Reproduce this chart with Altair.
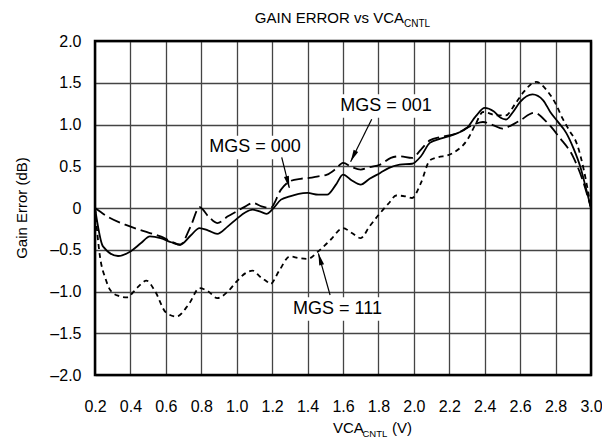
import altair as alt
import pandas as pd

FONT = "Liberation Sans"
W, H = 496, 334

x_ticks = [0.2, 0.4, 0.6, 0.8, 1.0, 1.2, 1.4, 1.6, 1.8, 2.0, 2.2, 2.4, 2.6, 2.8, 3.0]
y_ticks = [-2.0, -1.5, -1.0, -0.5, 0.0, 0.5, 1.0, 1.5, 2.0]

# Solid curve
solid_v = [0.20, 0.245, 0.33, 0.40, 0.46, 0.51, 0.57, 0.63, 0.68, 0.74, 0.79, 0.84, 0.89, 0.95,
           1.00, 1.05, 1.09, 1.14, 1.17, 1.20, 1.25, 1.30, 1.35, 1.40, 1.46, 1.51, 1.56, 1.60,
           1.65, 1.70, 1.75, 1.81, 1.86, 1.92, 1.99, 2.04, 2.09, 2.15, 2.20, 2.25, 2.30, 2.35,
           2.40, 2.45, 2.49, 2.52, 2.56, 2.60, 2.67, 2.73, 2.77, 2.81, 2.86, 2.90, 2.94, 2.97, 3.00]
solid_g = [0.00, -0.46, -0.575, -0.52, -0.42, -0.34, -0.36, -0.41, -0.44, -0.33, -0.24, -0.27, -0.31, -0.22,
           -0.13, -0.05, -0.02, -0.05, -0.07, -0.02, 0.10, 0.14, 0.17, 0.18, 0.16, 0.16, 0.28, 0.40,
           0.33, 0.28, 0.35, 0.42, 0.48, 0.52, 0.53, 0.62, 0.78, 0.83, 0.86, 0.90, 0.96, 1.10,
           1.20, 1.16, 1.08, 1.06, 1.15, 1.27, 1.36, 1.29, 1.15, 1.04, 0.90, 0.72, 0.49, 0.25, 0.00]

# Long-dash curve
long_v = [0.20, 0.285, 0.37, 0.45, 0.51, 0.57, 0.63, 0.68, 0.74, 0.79, 0.84, 0.89, 0.95, 1.00,
          1.05, 1.09, 1.14, 1.19, 1.25, 1.30, 1.36, 1.41, 1.46, 1.51, 1.56, 1.60, 1.65, 1.70,
          1.75, 1.81, 1.87, 1.92, 1.99, 2.04, 2.09, 2.15, 2.20, 2.25, 2.30, 2.35, 2.39, 2.45,
          2.50, 2.55, 2.60, 2.68, 2.75, 2.82, 2.90, 2.95, 3.00]
long_g = [0.00, -0.12, -0.20, -0.26, -0.30, -0.34, -0.40, -0.44, -0.22, 0.01, -0.10, -0.18, -0.10, -0.04,
          0.02, 0.06, 0.02, 0.00, 0.22, 0.32, 0.35, 0.36, 0.38, 0.40, 0.47, 0.54, 0.49, 0.46,
          0.49, 0.52, 0.60, 0.62, 0.60, 0.70, 0.81, 0.85, 0.87, 0.90, 0.96, 1.01, 1.03, 0.99,
          0.95, 0.99, 1.05, 1.14, 1.03, 0.85, 0.61, 0.35, 0.00]

# Short-dash curve
short_v = [0.20, 0.228, 0.26, 0.285, 0.33, 0.38, 0.44, 0.49, 0.54, 0.60, 0.66, 0.73, 0.79, 0.84,
           0.89, 0.95, 1.00, 1.05, 1.09, 1.13, 1.17, 1.19, 1.24, 1.30, 1.35, 1.40, 1.46, 1.53,
           1.60, 1.65, 1.70, 1.75, 1.81, 1.86, 1.90, 1.95, 1.99, 2.04, 2.09, 2.14, 2.19, 2.25,
           2.30, 2.35, 2.39, 2.47, 2.52, 2.57, 2.62, 2.69, 2.75, 2.80, 2.84, 2.88, 2.92, 2.96, 3.00]
short_g = [0.00, -0.58, -0.85, -0.98, -1.05, -1.07, -0.95, -0.87, -1.00, -1.25, -1.30, -1.15, -0.96, -1.00,
           -1.08, -1.00, -0.88, -0.78, -0.75, -0.82, -0.88, -0.91, -0.75, -0.58, -0.60, -0.61, -0.52, -0.38,
           -0.24, -0.30, -0.36, -0.22, -0.06, 0.06, 0.15, 0.14, 0.12, 0.30, 0.57, 0.61, 0.63, 0.70,
           0.81, 1.01, 1.15, 1.11, 1.11, 1.24, 1.39, 1.51, 1.41, 1.25, 1.07, 0.92, 0.77, 0.45, 0.00]

# Annotations
ann_text = ["MGS = 000", "MGS = 001", "MGS = 111"]
ann_v = [1.103, 1.843, 1.569]
ann_g = [0.725, 1.222, -1.21]
box_half_v = [0.28, 0.28, 0.28]
box_half_g = [0.14, 0.14, 0.14]
tail_v = [1.254, 1.762, 1.527]
tail_g = [0.607, 1.062, -1.042]
tip_v = [1.297, 1.643, 1.461]
tip_g = [0.24, 0.554, -0.543]
tip_angle = [166, 206, 344]

xs = alt.Scale(domain=[0.2, 3.0], nice=False, zero=False)
ys = alt.Scale(domain=[-2.0, 2.0], nice=False, zero=False)
x_axis = alt.Axis(values=x_ticks, labelExpr="format(datum.value, '.1f')", title=None,
                  labelPadding=23, labelFlush=False, labelOverlap=False)
y_axis = alt.Axis(values=y_ticks,
                  labelExpr="datum.value == 0 ? '0' : (datum.value < 0 ? '\u2013' + format(-datum.value, '.1f') : format(datum.value, '.1f'))",
                  title=None, labelPadding=14, labelFlush=False, labelOverlap=False)


def X(field):
    return alt.X(field, type="quantitative", scale=xs, axis=x_axis)


def Y(field):
    return alt.Y(field, type="quantitative", scale=ys, axis=y_axis)


def curve(v, g, **kw):
    df = pd.DataFrame({"v": v, "g": g})
    return alt.Chart(df).mark_line(color="black", strokeWidth=1.8, interpolate="monotone", **kw).encode(
        x=X("v"), y=Y("g"), order="v:Q")


ann = pd.DataFrame({
    "label": ann_text, "v": ann_v, "g": ann_g,
    "bx1": [a - b for a, b in zip(ann_v, box_half_v)],
    "bx2": [a + b for a, b in zip(ann_v, box_half_v)],
    "by1": [a - b for a, b in zip(ann_g, box_half_g)],
    "by2": [a + b for a, b in zip(ann_g, box_half_g)],
})
arrows = pd.DataFrame({"v": tail_v, "g": tail_g, "v2": tip_v, "g2": tip_g})
heads = pd.DataFrame({"v": tip_v, "g": tip_g, "ang": tip_angle})

boxes = alt.Chart(ann).mark_rect(fill="white").encode(
    x=X("bx1"), x2="bx2", y=Y("by1"), y2="by2")
ann_layer = alt.Chart(ann).mark_text(font=FONT, fontSize=18, color="black", align="center",
                                     baseline="middle").encode(x=X("v"), y=Y("g"), text="label")
arrow_layer = alt.Chart(arrows).mark_rule(color="black", strokeWidth=1.2).encode(
    x=X("v"), y=Y("g"), x2="v2", y2="g2")
head_layer = alt.Chart(heads).mark_point(shape="M0,0L0.42,2L-0.42,2Z", filled=True, size=144,
                                         color="black", opacity=1).encode(
    x=X("v"), y=Y("g"), angle=alt.Angle("ang:Q", scale=None))

one = pd.DataFrame({"a": [0]})
frame = alt.Chart(one).mark_rect(fillOpacity=0, stroke="black", strokeWidth=2.5).encode(
    x=alt.value(0), x2=alt.value(W), y=alt.value(0), y2=alt.value(H))


def label(text, x, y, size, align="left", angle=0, baseline="alphabetic"):
    kw = dict(text=text, font=FONT, fontSize=size, align=align, baseline=baseline, color="black")
    if angle:
        kw["angle"] = angle
    return alt.Chart(one).mark_text(**kw).encode(x=alt.value(x), y=alt.value(y))


titles = [
    label("GAIN ERROR vs VCA", 309, -18, 15, align="right"),
    label("CNTL", 309, -14, 10),
    label("Gain Error (dB)", -73, H / 2, 15, align="center", angle=270, baseline="middle"),
    label("VCA", 238, 392, 15),
    label("CNTL", 267.5, 396, 9.5),
    label("(V)", 297, 392, 15),
]

chart = alt.layer(
    boxes,
    curve(solid_v, solid_g),
    curve(long_v, long_g, strokeDash=[12, 5]),
    curve(short_v, short_g, strokeDash=[5, 4]),
    arrow_layer,
    head_layer,
    ann_layer,
    frame,
    *titles,
).properties(
    width=W, height=H,
    padding={"left": 87, "top": 33, "right": 11, "bottom": 64},
    autosize=alt.AutoSizeParams(type="none"),
).configure_view(stroke=None).configure_axis(
    grid=True, gridColor="#444", gridWidth=1.3, gridOpacity=1,
    domain=False, ticks=False, tickSize=0,
    labelFont=FONT, labelFontSize=16, labelColor="black",
)

chart.save("out.html", embed_options={"renderer": "svg", "actions": False})
